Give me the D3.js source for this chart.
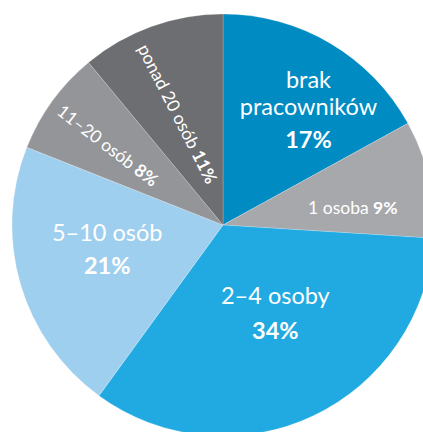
<!DOCTYPE html>
<html>
<head>
<meta charset="utf-8">
<script src="https://cdn.jsdelivr.net/npm/d3@7"></script>
<style>
  html, body { margin: 0; padding: 0; background: #ffffff; }
  svg { display: block; }
  text { font-family: Lato, "Open Sans", sans-serif; fill: #ffffff; }
</style>
</head>
<body>
<svg id="chart" width="423" height="432"></svg>
<script>
// Firm size categories and their shares (%)
const categories = ["brak pracowników", "1 osoba", "2–4 osoby", "5–10 osób", "11–20 osób", "ponad 20 osób"];
const shares = [17, 9, 34, 21, 8, 11];
const colors = ["#008bc2", "#a7a8ac", "#21aae1", "#9fcfee", "#939598", "#6d6e72"];

// Label layout: name lines, radius from centre, angle tweak (deg), rotation, size,
// and baseline offsets (px) of each line relative to the label anchor
const labelLines = [["brak", "pracowników"], null, ["2–4 osoby"], ["5–10 osób"], null, null];
const labelBaselines = [[-30, -3, 30], null, [-11, 24], [-11, 22], null, null];
const labelRadius = [137, 131, 104, 119, 140, 120];
const labelAngleShift = [8, 5, -5, 3, -1.5, -2.5];
const labelRotate = [0, 0, 0, 0, 37.5, 63];
const labelSize = [23.5, 17.5, 23.5, 23.5, 17.5, 17.5];

const svg = d3.select("#chart");
const cx = 223, cy = 225, R = 211;
const g = svg.append("g").attr("transform", `translate(${cx},${cy})`);

const data = categories.map((c, i) => ({ name: c, value: shares[i], i }));
const pie = d3.pie().value(d => d.value).sort(null);
const arcs = pie(data);
const arc = d3.arc().innerRadius(0).outerRadius(R);

g.selectAll("path.slice")
  .data(arcs)
  .join("path")
  .attr("class", "slice")
  .attr("d", arc)
  .attr("fill", d => colors[d.data.i])
  .attr("stroke", "#ffffff")
  .attr("stroke-opacity", 0.35)
  .attr("stroke-width", 0.6);

arcs.forEach(a => {
  const i = a.data.i;
  const mid = (a.startAngle + a.endAngle) / 2 + labelAngleShift[i] * Math.PI / 180;
  const x = Math.sin(mid) * labelRadius[i];
  const y = -Math.cos(mid) * labelRadius[i];
  const t = g.append("text")
    .attr("text-anchor", "middle")
    .attr("font-size", labelSize[i])
    .attr("transform", `translate(${x},${y}) rotate(${labelRotate[i]})`);

  if (labelLines[i]) {
    const base = labelBaselines[i];
    labelLines[i].forEach((ln, k) => {
      t.append("tspan")
        .attr("x", 0)
        .attr("y", base[k])
        .attr("font-weight", 400)
        .text(ln);
    });
    t.append("tspan")
      .attr("x", 0)
      .attr("y", base[base.length - 1])
      .attr("font-weight", 700)
      .text(a.data.value + "%");
  } else {
    t.attr("dy", "0.35em");
    t.append("tspan").attr("font-weight", 400).text(a.data.name + " ");
    t.append("tspan").attr("font-weight", 700).text(a.data.value + "%");
  }
});
</script>
</body>
</html>
